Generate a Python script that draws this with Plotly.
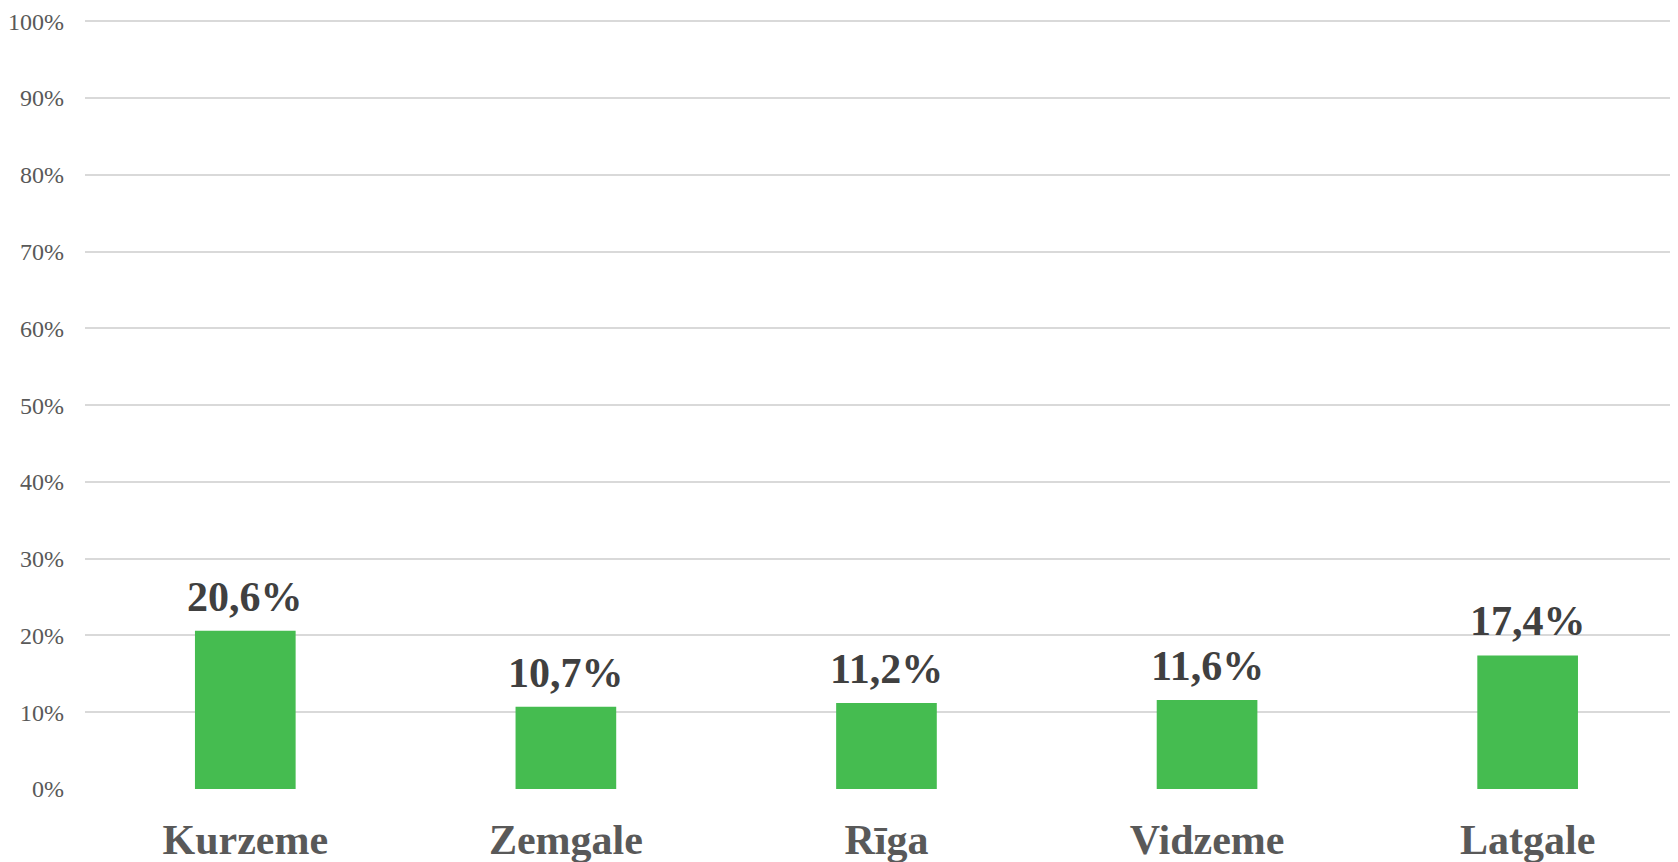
import plotly.graph_objects as go

categories = ["Kurzeme", "Zemgale", "Rīga", "Vidzeme", "Latgale"]
values = [20.6, 10.7, 11.2, 11.6, 17.4]
value_labels = ["20,6%", "10,7%", "11,2%", "11,6%", "17,4%"]
y_ticks = [0, 10, 20, 30, 40, 50, 60, 70, 80, 90, 100]
y_tick_labels = [f"{v}%" for v in y_ticks]

fig = go.Figure()
fig.add_trace(go.Bar(
    x=categories,
    y=values,
    marker=dict(color="#45BC50", line=dict(width=0)),
    width=0.314,
    hoverinfo="skip",
))

for c, v, t in zip(categories, values, value_labels):
    fig.add_annotation(
        x=c, y=v, text=t, showarrow=False,
        yanchor="bottom", yshift=9,
        font=dict(family="Liberation Serif", size=42, color="#404040", weight="bold"),
    )

fig.update_layout(
    width=1670, height=854,
    margin=dict(l=77, r=0, t=11, b=73),
    plot_bgcolor="white", paper_bgcolor="white",
    showlegend=False,
    xaxis=dict(
        range=[-0.5, 4.469],
        showgrid=False, zeroline=False, showline=False,
        ticks="", ticklabelstandoff=22, automargin=False,
        tickfont=dict(family="Liberation Serif", size=42, color="#595959", weight="bold"),
    ),
    yaxis=dict(
        range=[0, 100.3],
        tickvals=y_ticks, ticktext=y_tick_labels,
        showgrid=True, gridcolor="#D9D9D9", gridwidth=2,
        zeroline=False, showline=False, ticks="", automargin=False,
        ticklabelstandoff=20,
        tickfont=dict(family="Liberation Serif", size=24, color="#595959"),
    ),
)

fig.write_html("out.html")
